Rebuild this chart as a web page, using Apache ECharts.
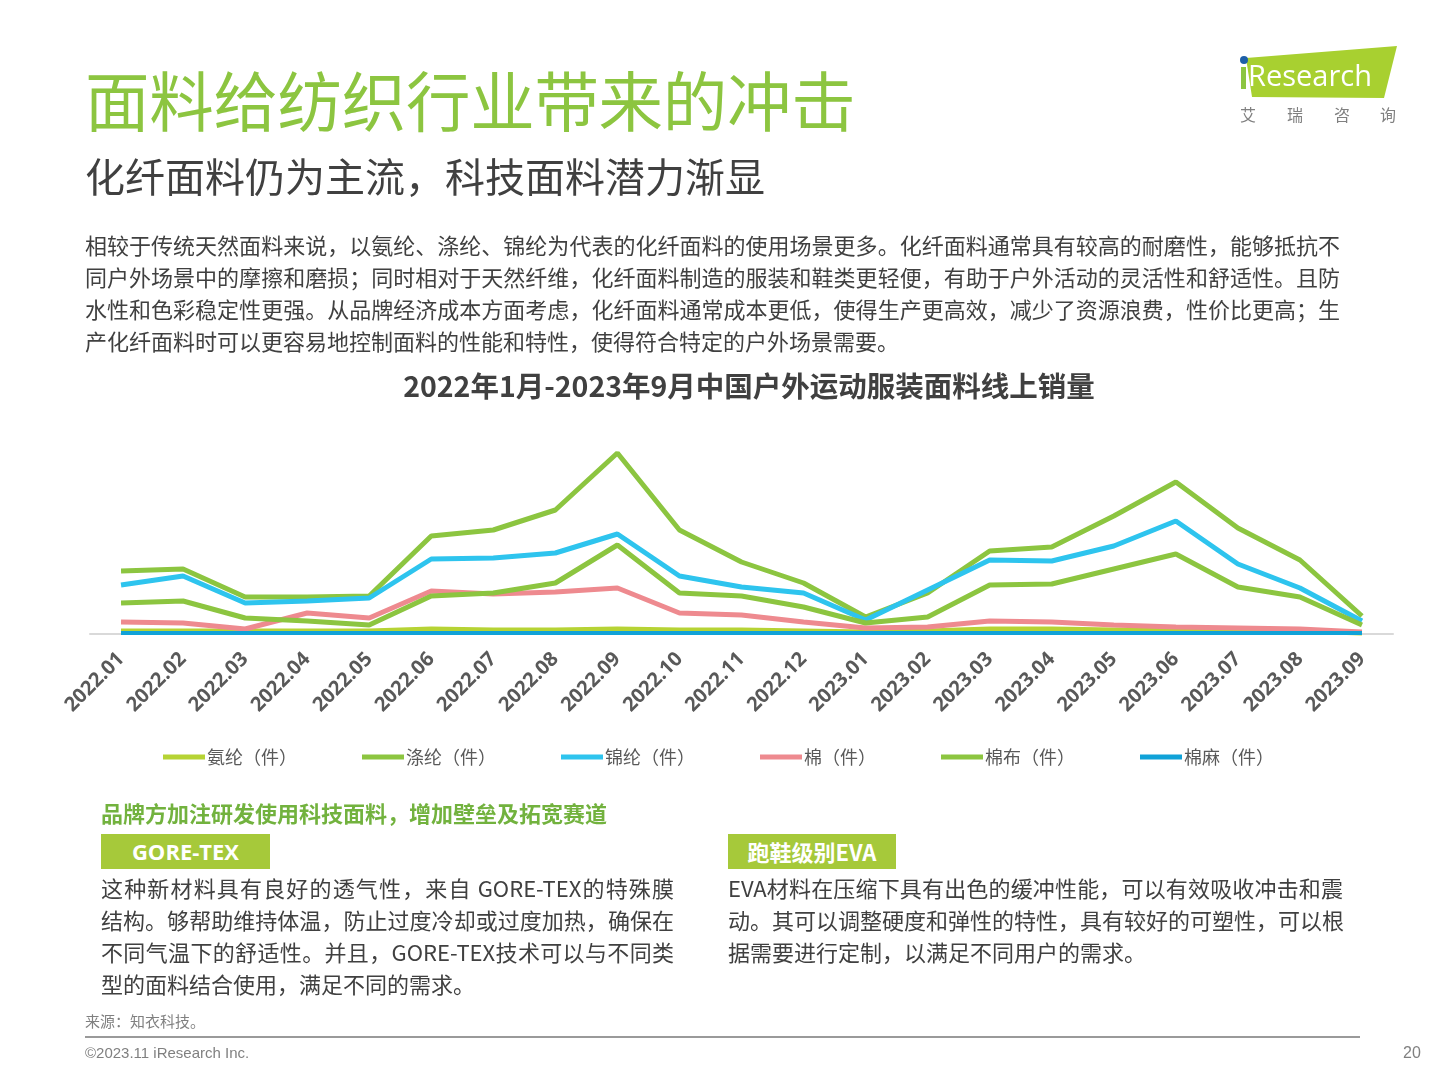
<!DOCTYPE html>
<html>
<head>
<meta charset="utf-8">
<script src="https://cdn.jsdelivr.net/npm/echarts@6/dist/echarts.min.js"></script>
<style>
  html, body { margin:0; padding:0; background:#fff; }
  body { width:1440px; height:1080px; position:relative; overflow:hidden; font-family:"Noto Sans CJK SC","Noto Sans",sans-serif; }
  #chart { position:absolute; left:0; top:0; width:1440px; height:1080px; }
  .abs { position:absolute; white-space:nowrap; z-index:2; }
  .title { left:85px; top:60px; font-size:64.5px; line-height:76px; color:#8cc540; letter-spacing:-0.3px; }
  .sub { left:85px; top:151px; font-size:40px; line-height:48px; color:#404040; }
  .para { left:85px; top:228px; font-size:22px; line-height:32px; color:#404040; }
  .jl { display:block; text-align:justify; text-align-last:justify; }
  .head { left:101px; top:797px; font-size:22px; line-height:30px; color:#72b23e; font-weight:bold; }
  .tag { height:35px; line-height:35px; background:#a6c93a; color:#fff; font-size:22px; font-weight:bold; text-align:center; }
  .body { font-size:22px; line-height:32px; color:#404040; }
  .foot { font-size:15px; color:#808080; line-height:20px; }
</style>
</head>
<body>
<div id="chart"></div>

<div class="abs title">面料给纺织行业带来的冲击</div>
<div class="abs sub">化纤面料仍为主流，科技面料潜力渐显</div>
<div class="abs para">
  <span class="jl" style="width:1255px">相较于传统天然面料来说，以氨纶、涤纶、锦纶为代表的化纤面料的使用场景更多。化纤面料通常具有较高的耐磨性，能够抵抗不</span>
  <span class="jl" style="width:1255px">同户外场景中的摩擦和磨损；同时相对于天然纤维，化纤面料制造的服装和鞋类更轻便，有助于户外活动的灵活性和舒适性。且防</span>
  <span class="jl" style="width:1255px">水性和色彩稳定性更强。从品牌经济成本方面考虑，化纤面料通常成本更低，使得生产更高效，减少了资源浪费，性价比更高；生</span>
  <span style="display:block">产化纤面料时可以更容易地控制面料的性能和特性，使得符合特定的户外场景需要。</span>
</div>

<div class="abs head">品牌方加注研发使用科技面料，增加壁垒及拓宽赛道</div>
<div class="abs tag" style="left:101px; top:834px; width:169px; font-family:'Open Sans','Noto Sans',sans-serif;">GORE-TEX</div>
<div class="abs tag" style="left:728px; top:834px; width:168px;">跑鞋级别EVA</div>
<div class="abs body" style="left:101px; top:871px;">
  <span class="jl" style="width:573px">这种新材料具有良好的透气性，来自 GORE-TEX的特殊膜</span>
  <span class="jl" style="width:573px">结构。够帮助维持体温，防止过度冷却或过度加热，确保在</span>
  <span class="jl" style="width:573px">不同气温下的舒适性。并且，GORE-TEX技术可以与不同类</span>
  <span style="display:block">型的面料结合使用，满足不同的需求。</span>
</div>
<div class="abs body" style="left:728px; top:871px;">
  <span class="jl" style="width:615px">EVA材料在压缩下具有出色的缓冲性能，可以有效吸收冲击和震</span>
  <span class="jl" style="width:615px">动。其可以调整硬度和弹性的特性，具有较好的可塑性，可以根</span>
  <span style="display:block">据需要进行定制，以满足不同用户的需求。</span>
</div>

<div class="abs foot" style="left:85px; top:1011px;">来源：知衣科技。</div>
<div class="abs" style="left:85px; top:1036px; width:1275px; height:2px; background:#9a9a9a;"></div>
<div class="abs foot" style="left:85px; top:1043px; font-family:'Liberation Sans Narrow','Liberation Sans',sans-serif;">©2023.11 iResearch Inc.</div>
<div class="abs foot" style="left:1403px; top:1043px; font-size:16px; font-family:'Liberation Sans Narrow','Liberation Sans',sans-serif;">20</div>

<svg class="abs" style="left:1230px; top:40px;" width="190" height="90" viewBox="0 0 190 90">
  <polygon points="16,18 167,6 154,58 22,57" fill="#a8d030"/>
  <rect x="11" y="27" width="5" height="22" fill="#8cc540"/>
  <circle cx="14" cy="20" r="4" fill="#1d5fa8"/>
  <text x="18" y="46" font-family="Open Sans, Noto Sans, sans-serif" font-size="29" fill="#ffffff">Research</text>
  <text x="10" y="81" font-family="Noto Sans CJK SC" font-size="16" fill="#808080">艾</text>
  <text x="57" y="81" font-family="Noto Sans CJK SC" font-size="16" fill="#808080">瑞</text>
  <text x="104" y="81" font-family="Noto Sans CJK SC" font-size="16" fill="#808080">咨</text>
  <text x="150" y="81" font-family="Noto Sans CJK SC" font-size="16" fill="#808080">询</text>
</svg>

<script>
// Data (relative units; no y-axis shown in the source)
const categories = ['2022.01','2022.02','2022.03','2022.04','2022.05','2022.06','2022.07','2022.08','2022.09','2022.10','2022.11','2022.12',
                    '2023.01','2023.02','2023.03','2023.04','2023.05','2023.06','2023.07','2023.08','2023.09'];
const seriesNames = ['氨纶（件）','涤纶（件）','锦纶（件）','棉（件）','棉布（件）','棉麻（件）'];
const anlun   = [3, 3, 3, 3, 3, 5, 4, 4, 5, 4, 4, 3, 2, 3, 5, 5, 4, 4, 3, 3, 1];
const dilun   = [63, 65, 37, 37, 38, 98, 104, 124, 181, 104, 72, 51, 17, 41, 83, 87, 118, 152, 106, 74, 18];
const jinlun  = [49, 58, 31, 33, 36, 75, 76, 81, 100, 58, 47, 41, 14, 44, 74, 73, 88, 113, 70, 46, 13];
const mian    = [12, 11, 5, 21, 16, 43, 40, 42, 46, 21, 19, 12, 6, 7, 13, 12, 9, 7, 6, 5, 2];
const mianbu  = [31, 33, 16, 13, 9, 38, 41, 51, 89, 41, 38, 27, 11, 17, 49, 50, 65, 80, 47, 37, 9];
const mianma  = [1, 1, 1, 1, 1, 1, 1, 1, 1, 1, 1, 1, 1, 1, 1, 1, 1, 1, 1, 1, 1];
const colors  = ['#b6d334','#8cc540','#2ec4ee','#ee8a8f','#8cc540','#10a2d8'];
const datasets = [anlun, dilun, jinlun, mian, mianbu, mianma];

const chart = echarts.init(document.getElementById('chart'));
chart.setOption({
  animation: false,
  title: {
    text: '2022年1月-2023年9月中国户外运动服装面料线上销量',
    left: 744, top: 367, textAlign: 'center',
    textStyle: { fontSize: 28.5, fontWeight: 'bold', color: '#404040', fontFamily: 'Noto Sans CJK SC' }
  },
  legend: {
    data: seriesNames,
    left: 163, top: 745, padding: 0,
    icon: 'rect',
    itemWidth: 42, itemHeight: 5, itemGap: 65,
    textStyle: { fontSize: 18, color: '#595959', fontFamily: 'Noto Sans CJK SC', lineHeight: 24, padding: [0,0,0,-3] }
  },
  grid: { left: 90, right: 47, top: 434, bottom: 446, containLabel: false },
  xAxis: {
    type: 'category',
    data: categories,
    boundaryGap: true,
    axisLine: { lineStyle: { color: '#d9d9d9', width: 2 } },
    axisTick: { show: false },
    axisLabel: { interval: 0, rotate: 45, margin: 22, fontSize: 20, fontWeight: 'bold', color: '#595959', fontFamily: 'Open Sans, Noto Sans, sans-serif' }
  },
  yAxis: { type: 'value', min: 0, max: 200, show: false, splitLine: { show: false } },
  series: seriesNames.map((n, i) => ({
    name: n,
    type: 'line',
    data: datasets[i],
    symbol: 'none',
    z: i === 5 ? 10 : 3,
    lineStyle: { width: i === 5 ? 4 : 5, color: colors[i] },
    itemStyle: { color: colors[i] }
  }))
});
</script>
</body>
</html>
